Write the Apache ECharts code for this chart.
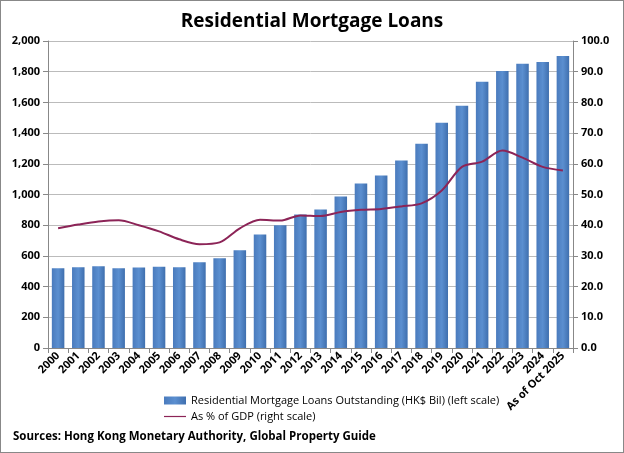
<!DOCTYPE html>
<html><head><meta charset="utf-8">
<script src="https://cdn.jsdelivr.net/npm/echarts@6/dist/echarts.min.js"></script>
<style>html,body{margin:0;padding:0;background:#fff}#c{width:622px;height:451px;border:1px solid #888}</style>
</head><body><div id="c"></div>
<script>
var categories=['2000','2001','2002','2003','2004','2005','2006','2007','2008','2009','2010','2011','2012','2013','2014','2015','2016','2017','2018','2019','2020','2021','2022','2023','2024','As of Oct 2025'];
var loans=[520,526,532,520,525,530,526,558,584,636,740,799,870,903,987,1071,1123,1221,1331,1468,1578,1734,1805,1851,1864,1903];
var gdpPct=[39,40.2,41.2,41.6,40,38,35.4,33.8,34.4,39,41.8,41.5,43.2,43,44.3,45,45.3,46.1,47.1,51.3,59,60.7,64.3,62,59,57.8];
var leftTicks={min:0,max:2000,interval:200};
var rightTicks={min:0,max:100,interval:10};
var F='Open Sans';
var chart=echarts.init(document.getElementById('c'));
chart.setOption({
  animation:false,
  textStyle:{fontFamily:F},
  title:{text:'Residential Mortgage Loans',left:'center',top:6,textStyle:{fontSize:19,fontWeight:'bold',color:'#000',fontFamily:F}},
  grid:{left:47,right:50,top:40,bottom:104},
  legend:{orient:'vertical',left:158,top:389,itemGap:5,itemWidth:22,itemHeight:8,textStyle:{fontSize:11,color:'#000'},
    data:[{name:'Residential Mortgage Loans Outstanding (HK$ Bil) (left scale)',icon:'rect'},{name:'As % of GDP (right scale)',icon:'path://M0,3.4 L22,3.4 L22,4.6 L0,4.6 Z'}]},
  graphic:[{type:'text',left:12,top:430,style:{text:'Sources: Hong Kong Monetary Authority, Global Property Guide',fontSize:11.5,fontWeight:'bold',fill:'#000',fontFamily:F}}],
  xAxis:{type:'category',data:categories,axisTick:{show:true,alignWithLabel:false,lineStyle:{color:'#888'}},axisLine:{lineStyle:{color:'#888'}},
    axisLabel:{rotate:45,interval:0,fontSize:11,fontWeight:'bold',color:'#000',margin:6}},
  yAxis:[{type:'value',min:leftTicks.min,max:leftTicks.max,interval:leftTicks.interval,
    axisLabel:{fontSize:11,fontWeight:'bold',color:'#000',formatter:function(v){return v.toLocaleString('en-US');}},
    axisLine:{show:true,lineStyle:{color:'#888'}},axisTick:{show:true,lineStyle:{color:'#888'}},splitLine:{lineStyle:{color:'#bbb'}}},
   {type:'value',min:rightTicks.min,max:rightTicks.max,interval:rightTicks.interval,
    axisLabel:{fontSize:11,fontWeight:'bold',color:'#000',formatter:function(v){return v.toFixed(1);}},
    axisLine:{show:true,lineStyle:{color:'#888'}},axisTick:{show:true,lineStyle:{color:'#888'}},splitLine:{show:false}}],
  series:[{name:'Residential Mortgage Loans Outstanding (HK$ Bil) (left scale)',type:'bar',data:loans,barWidth:'62%',
    itemStyle:{color:new echarts.graphic.LinearGradient(0,0,1,0,[{offset:0,color:'#4a7bbd'},{offset:0.5,color:'#5b8fd0'},{offset:1,color:'#3f6fae'}])}},
   {name:'As % of GDP (right scale)',type:'line',yAxisIndex:1,data:gdpPct,symbol:'none',smooth:0.3,lineStyle:{color:'#8c2457',width:2},itemStyle:{color:'#8c2457'}}]
});
</script></body></html>
